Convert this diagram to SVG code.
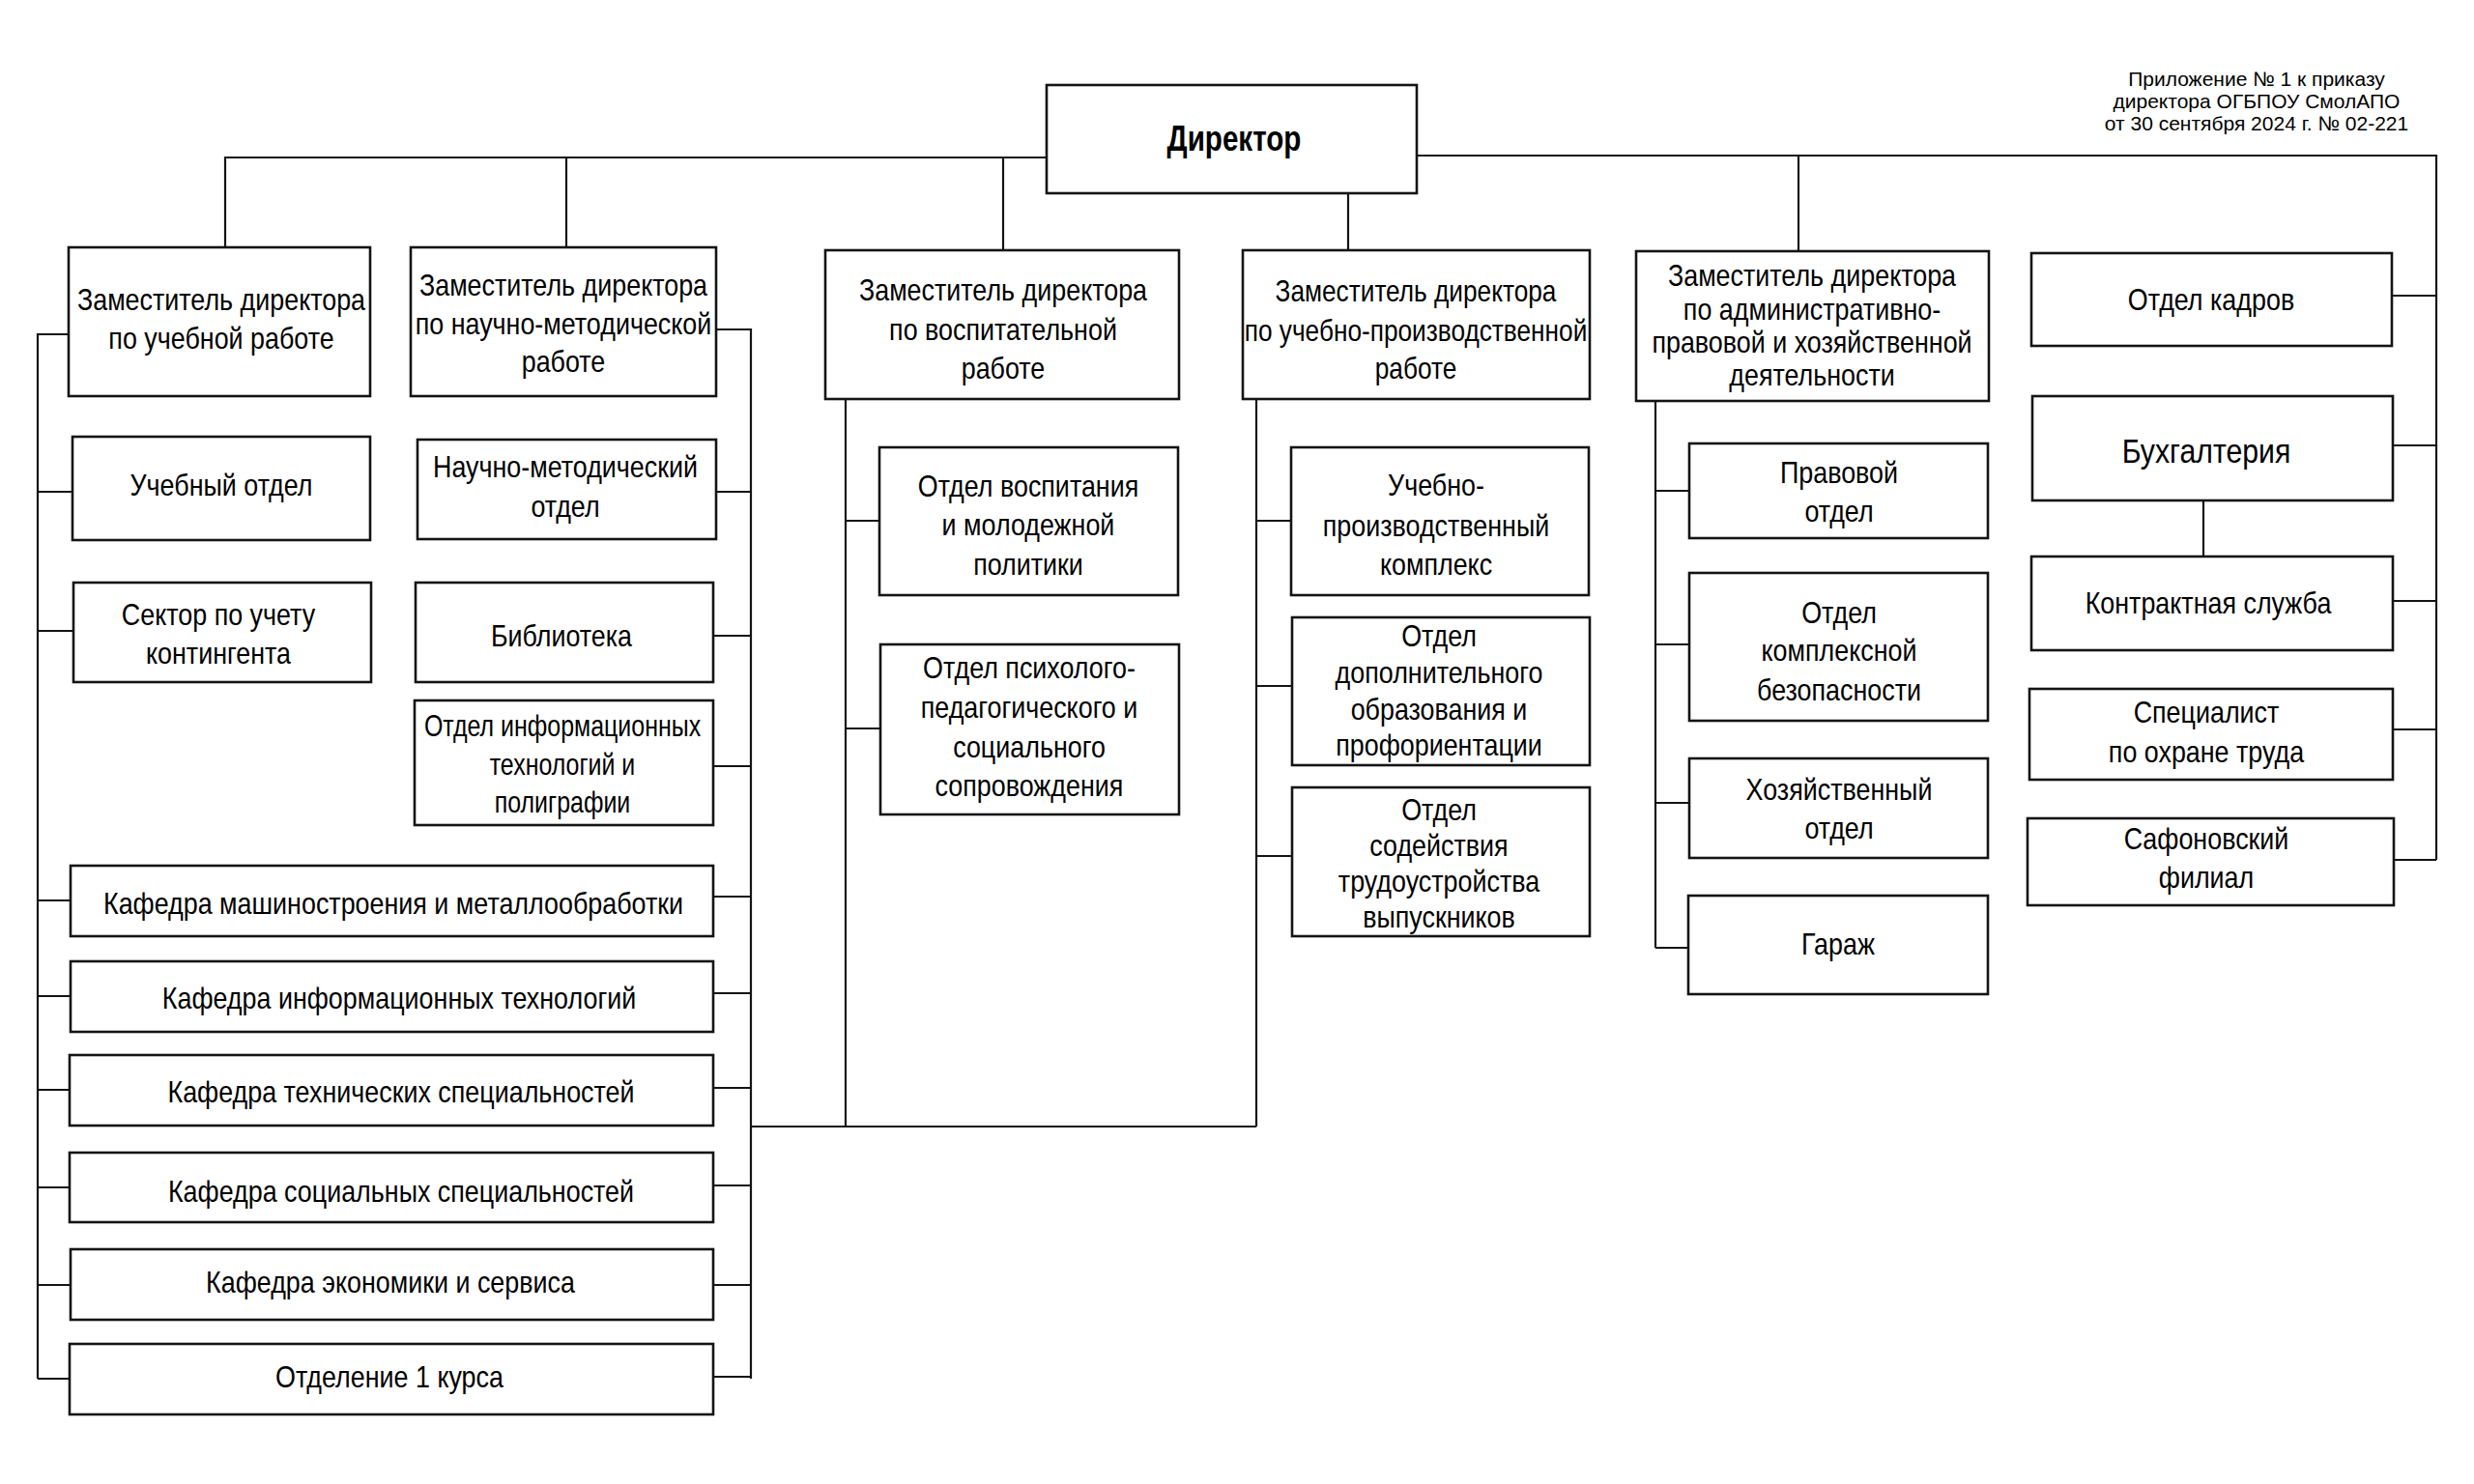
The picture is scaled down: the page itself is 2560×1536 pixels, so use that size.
<svg xmlns="http://www.w3.org/2000/svg" width="2560" height="1536" viewBox="0 0 2560 1536">
<style>
.bg{fill:#fff}
.box{fill:#fff;stroke:#141414;stroke-width:2.6}
.ln{fill:none;stroke:#141414;stroke-width:2.2}
.t{font-family:"Liberation Sans",Arial,sans-serif;font-size:32px;text-anchor:middle;fill:#000}
.big{font-size:36px}
.b{font-weight:bold;font-size:37px}
.note{font-family:"Liberation Sans",Arial,sans-serif;font-size:21px;text-anchor:middle;fill:#000}
</style>
<rect class="bg" x="0" y="0" width="2560" height="1536"/>

<g id="connectors">
<path class="ln" d="M1083 163 H233 V256"/>
<path class="ln" d="M586 163 V256"/>
<path class="ln" d="M1038 163 V259"/>
<path class="ln" d="M1466 161 H2521 V890"/>
<path class="ln" d="M1861 161 V260"/>
<path class="ln" d="M1395 200 V259"/>
<path class="ln" d="M2475 306 H2521 M2476 461 H2521 M2476 622 H2521 M2476 755 H2521 M2477 890 H2521"/>
<path class="ln" d="M2280 518 V576"/>
<path class="ln" d="M71 346 H39 V1427"/>
<path class="ln" d="M39 509 H75 M39 653 H76 M39 932 H73 M39 1031 H73 M39 1128 H72 M39 1229 H72 M39 1330 H73 M39 1427 H72"/>
<path class="ln" d="M741 341 H777 V1427"/>
<path class="ln" d="M741 509 H777 M738 658 H777 M738 793 H777 M738 928 H777 M738 1028 H777 M738 1126 H777 M738 1227 H777 M738 1330 H777 M738 1425 H777"/>
<path class="ln" d="M777 1166 H1300"/>
<path class="ln" d="M875 413 V1166 M875 539 H910 M875 754 H911"/>
<path class="ln" d="M1300 413 V1166 M1300 539 H1336 M1300 710 H1337 M1300 886 H1337"/>
<path class="ln" d="M1713 415 V981 M1713 508 H1748 M1713 667 H1748 M1713 831 H1748 M1713 981 H1747"/>
</g>

<g id="note">
<text class="note"><tspan x="2335" y="89">Приложение № 1 к приказу</tspan><tspan x="2335" y="112">директора ОГБПОУ СмолАПО</tspan><tspan x="2335" y="135">от 30 сентября 2024 г. № 02-221</tspan></text>
</g>

<g id="director">
<rect class="box" x="1083" y="88" width="383" height="112"/>
<text class="t b" transform="translate(1277 0) scale(0.8 1)"><tspan x="0" y="156">Директор</tspan></text>
</g>

<g id="dep-study">
<rect class="box" x="71" y="256" width="312" height="154"/>
<text class="t" transform="translate(229 0) scale(0.84 1)"><tspan x="0" y="321">Заместитель директора</tspan><tspan x="0" y="361">по учебной работе</tspan></text>
</g>
<g id="dep-science">
<rect class="box" x="425" y="256" width="316" height="154"/>
<text class="t" transform="translate(583 0) scale(0.84 1)"><tspan x="0" y="306">Заместитель директора</tspan><tspan x="0" y="346">по научно-методической</tspan><tspan x="0" y="385">работе</tspan></text>
</g>
<g id="dep-upbringing">
<rect class="box" x="854" y="259" width="366" height="154"/>
<text class="t" transform="translate(1038 0) scale(0.84 1)"><tspan x="0" y="311">Заместитель директора</tspan><tspan x="0" y="352">по воспитательной</tspan><tspan x="0" y="392">работе</tspan></text>
</g>
<g id="dep-production">
<rect class="box" x="1286" y="259" width="359" height="154"/>
<text class="t" transform="translate(1465 0) scale(0.82 1)"><tspan x="0" y="312">Заместитель директора</tspan><tspan x="0" y="353">по учебно-производственной</tspan><tspan x="0" y="392">работе</tspan></text>
</g>
<g id="dep-admin">
<rect class="box" x="1693" y="260" width="365" height="155"/>
<text class="t" transform="translate(1875 0) scale(0.84 1)"><tspan x="0" y="296">Заместитель директора</tspan><tspan x="0" y="331">по административно-</tspan><tspan x="0" y="365">правовой и хозяйственной</tspan><tspan x="0" y="399">деятельности</tspan></text>
</g>

<g id="hr">
<rect class="box" x="2102" y="262" width="373" height="96"/>
<text class="t" transform="translate(2288 0) scale(0.84 1)"><tspan x="0" y="321">Отдел кадров</tspan></text>
</g>
<g id="accounting">
<rect class="box" x="2103" y="410" width="373" height="108"/>
<text class="t big" transform="translate(2283 0) scale(0.84 1)"><tspan x="0" y="479">Бухгалтерия</tspan></text>
</g>
<g id="contract">
<rect class="box" x="2102" y="576" width="374" height="97"/>
<text class="t" transform="translate(2285 0) scale(0.84 1)"><tspan x="0" y="635">Контрактная служба</tspan></text>
</g>
<g id="safety">
<rect class="box" x="2100" y="713" width="376" height="94"/>
<text class="t" transform="translate(2283 0) scale(0.84 1)"><tspan x="0" y="748">Специалист</tspan><tspan x="0" y="789">по охране труда</tspan></text>
</g>
<g id="branch">
<rect class="box" x="2098" y="847" width="379" height="90"/>
<text class="t" transform="translate(2283 0) scale(0.84 1)"><tspan x="0" y="879">Сафоновский</tspan><tspan x="0" y="919">филиал</tspan></text>
</g>

<g id="legal">
<rect class="box" x="1748" y="459" width="309" height="98"/>
<text class="t" transform="translate(1903 0) scale(0.84 1)"><tspan x="0" y="500">Правовой</tspan><tspan x="0" y="540">отдел</tspan></text>
</g>
<g id="security">
<rect class="box" x="1748" y="593" width="309" height="153"/>
<text class="t" transform="translate(1903 0) scale(0.84 1)"><tspan x="0" y="645">Отдел</tspan><tspan x="0" y="684">комплексной</tspan><tspan x="0" y="725">безопасности</tspan></text>
</g>
<g id="household">
<rect class="box" x="1748" y="785" width="309" height="103"/>
<text class="t" transform="translate(1903 0) scale(0.84 1)"><tspan x="0" y="828">Хозяйственный</tspan><tspan x="0" y="868">отдел</tspan></text>
</g>
<g id="garage">
<rect class="box" x="1747" y="927" width="310" height="102"/>
<text class="t" transform="translate(1902 0) scale(0.84 1)"><tspan x="0" y="988">Гараж</tspan></text>
</g>

<g id="study-office">
<rect class="box" x="75" y="452" width="308" height="107"/>
<text class="t" transform="translate(229 0) scale(0.84 1)"><tspan x="0" y="513">Учебный отдел</tspan></text>
</g>
<g id="contingent">
<rect class="box" x="76" y="603" width="308" height="103"/>
<text class="t" transform="translate(226 0) scale(0.84 1)"><tspan x="0" y="647">Сектор по учету</tspan><tspan x="0" y="687">контингента</tspan></text>
</g>
<g id="science-office">
<rect class="box" x="432" y="455" width="309" height="103"/>
<text class="t" transform="translate(585 0) scale(0.84 1)"><tspan x="0" y="494">Научно-методический</tspan><tspan x="0" y="535">отдел</tspan></text>
</g>
<g id="library">
<rect class="box" x="430" y="603" width="308" height="103"/>
<text class="t" transform="translate(581 0) scale(0.84 1)"><tspan x="0" y="669">Библиотека</tspan></text>
</g>
<g id="it-office">
<rect class="box" x="429" y="725" width="309" height="129"/>
<text class="t" transform="translate(582 0) scale(0.78 1)"><tspan x="0" y="762">Отдел информационных</tspan><tspan x="0" y="802">технологий и</tspan><tspan x="0" y="841">полиграфии</tspan></text>
</g>

<g id="kaf-mech">
<rect class="box" x="73" y="896" width="665" height="73"/>
<text class="t" transform="translate(407 0) scale(0.84 1)"><tspan x="0" y="946">Кафедра машиностроения и металлообработки</tspan></text>
</g>
<g id="kaf-it">
<rect class="box" x="73" y="995" width="665" height="73"/>
<text class="t" transform="translate(413 0) scale(0.84 1)"><tspan x="0" y="1044">Кафедра информационных технологий</tspan></text>
</g>
<g id="kaf-tech">
<rect class="box" x="72" y="1092" width="666" height="73"/>
<text class="t" transform="translate(415 0) scale(0.84 1)"><tspan x="0" y="1141">Кафедра технических специальностей</tspan></text>
</g>
<g id="kaf-social">
<rect class="box" x="72" y="1193" width="666" height="72"/>
<text class="t" transform="translate(415 0) scale(0.84 1)"><tspan x="0" y="1244">Кафедра социальных специальностей</tspan></text>
</g>
<g id="kaf-econ">
<rect class="box" x="73" y="1293" width="665" height="73"/>
<text class="t" transform="translate(404 0) scale(0.84 1)"><tspan x="0" y="1338">Кафедра экономики и сервиса</tspan></text>
</g>
<g id="first-year">
<rect class="box" x="72" y="1391" width="666" height="73"/>
<text class="t" transform="translate(403 0) scale(0.84 1)"><tspan x="0" y="1436">Отделение 1 курса</tspan></text>
</g>

<g id="youth">
<rect class="box" x="910" y="463" width="309" height="153"/>
<text class="t" transform="translate(1064 0) scale(0.84 1)"><tspan x="0" y="514">Отдел воспитания</tspan><tspan x="0" y="554">и молодежной</tspan><tspan x="0" y="595">политики</tspan></text>
</g>
<g id="psych">
<rect class="box" x="911" y="667" width="309" height="176"/>
<text class="t" transform="translate(1065 0) scale(0.84 1)"><tspan x="0" y="702">Отдел психолого-</tspan><tspan x="0" y="743">педагогического и</tspan><tspan x="0" y="784">социального</tspan><tspan x="0" y="824">сопровождения</tspan></text>
</g>

<g id="complex">
<rect class="box" x="1336" y="463" width="308" height="153"/>
<text class="t" transform="translate(1486 0) scale(0.84 1)"><tspan x="0" y="513">Учебно-</tspan><tspan x="0" y="555">производственный</tspan><tspan x="0" y="595">комплекс</tspan></text>
</g>
<g id="extra-edu">
<rect class="box" x="1337" y="639" width="308" height="153"/>
<text class="t" transform="translate(1489 0) scale(0.84 1)"><tspan x="0" y="669">Отдел</tspan><tspan x="0" y="707">дополнительного</tspan><tspan x="0" y="745">образования и</tspan><tspan x="0" y="782">профориентации</tspan></text>
</g>
<g id="employment">
<rect class="box" x="1337" y="815" width="308" height="154"/>
<text class="t" transform="translate(1489 0) scale(0.84 1)"><tspan x="0" y="849">Отдел</tspan><tspan x="0" y="886">содействия</tspan><tspan x="0" y="923">трудоустройства</tspan><tspan x="0" y="960">выпускников</tspan></text>
</g>
</svg>
